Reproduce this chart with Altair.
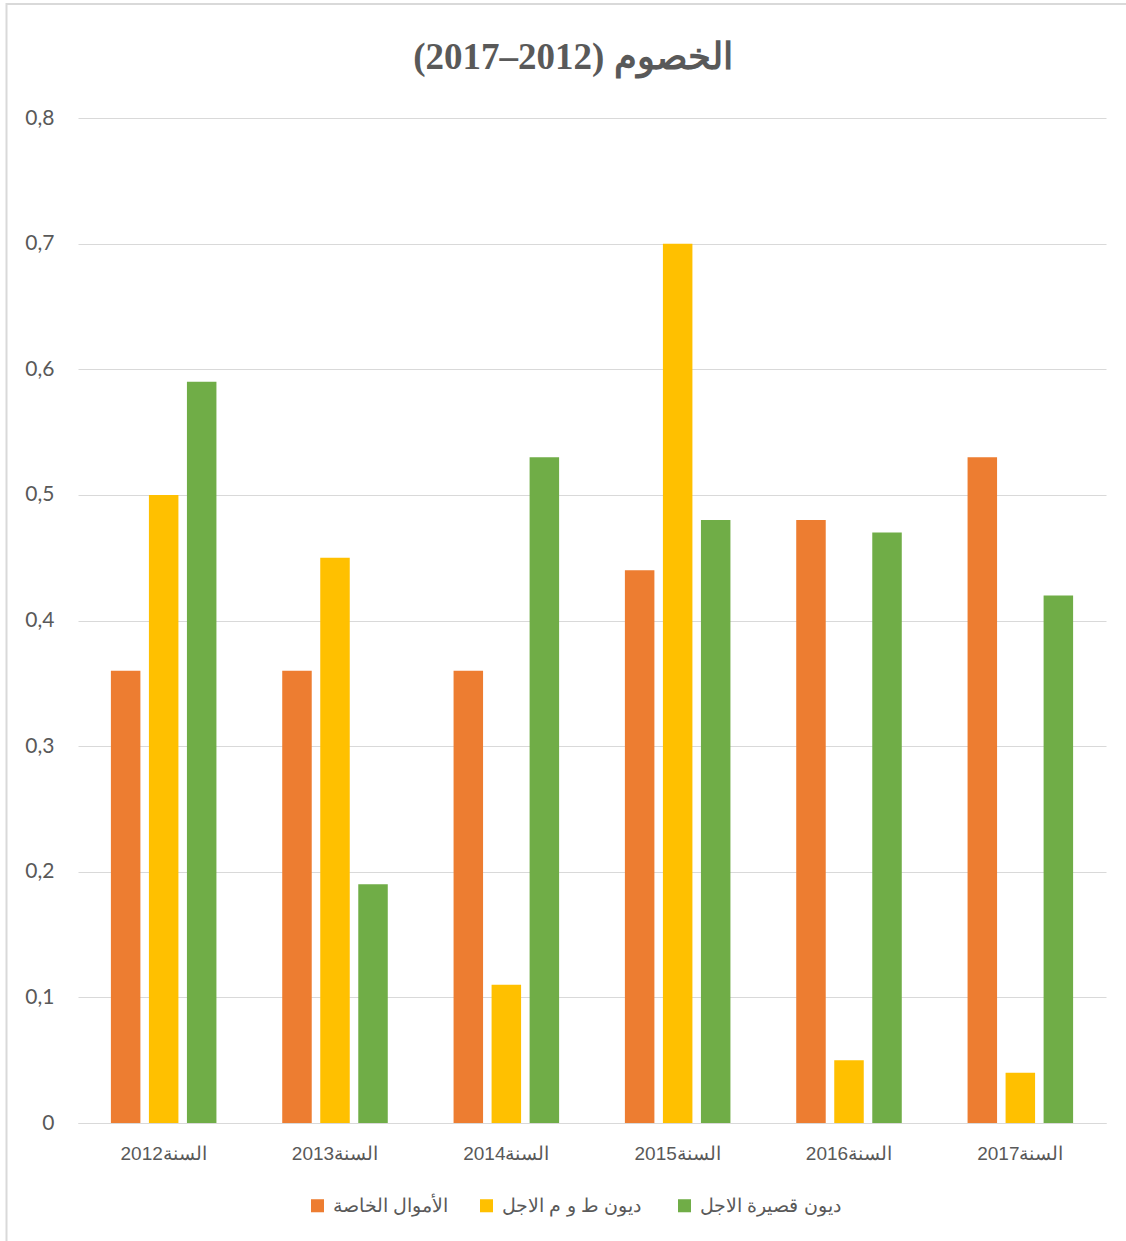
import altair as alt
import pandas as pd

years = ["السنة2012", "السنة2013", "السنة2014", "السنة2015", "السنة2016", "السنة2017"]
series = ["الأموال الخاصة", "ديون ط و م  الاجل", "ديون قصيرة الاجل"]
own_funds = [0.36, 0.36, 0.36, 0.44, 0.48, 0.53]
long_debt = [0.50, 0.45, 0.11, 0.70, 0.05, 0.04]
short_debt = [0.59, 0.19, 0.53, 0.48, 0.47, 0.42]
colors = ["#ED7D31", "#FFC000", "#70AD47"]
title_text = "(2017–2012) الخصوم"

rows = []
for s, vals in zip(series, [own_funds, long_debt, short_debt]):
    for y, v in zip(years, vals):
        rows.append({"year": y, "series": s, "value": v})
df = pd.DataFrame(rows)

bars = alt.Chart(df).mark_bar().encode(
    x=alt.X("year:N", sort=years, title=None,
            scale=alt.Scale(paddingInner=0.384, paddingOuter=0.192),
            axis=alt.Axis(labelAngle=0, labelFont="Liberation Sans", labelFontSize=19,
                          labelColor="#595959", ticks=False, domainColor="#d9d9d9",
                          domainWidth=1, labelPadding=21, grid=False)),
    xOffset=alt.XOffset("series:N", sort=series,
                        scale=alt.Scale(paddingInner=0.224, paddingOuter=0)),
    y=alt.Y("value:Q", title=None,
            scale=alt.Scale(domain=[0, 0.8], nice=False),
            axis=alt.Axis(values=[0, 0.1, 0.2, 0.3, 0.4, 0.5, 0.6, 0.7, 0.8],
                          labelExpr="datum.value == 0 ? '0' : replace(format(datum.value, '.1f'), '.', ',')",
                          labelFont="Lato", labelFontSize=21, labelColor="#595959",
                          ticks=False, domain=False, gridColor="#d9d9d9", gridWidth=1,
                          labelPadding=24)),
    color=alt.Color("series:N", sort=series,
                    scale=alt.Scale(domain=series, range=colors),
                    legend=alt.Legend(title=None, orient="none", direction="horizontal",
                                      legendX=230, legendY=1078,
                                      symbolType="square", symbolSize=170, symbolStrokeWidth=0,
                                      labelFont="Liberation Sans", labelFontSize=19,
                                      labelColor="#595959", columnPadding=28,
                                      labelOffset=6)),
)

border = alt.Chart(pd.DataFrame({"a": [0]})).mark_rect(
    fill=None, stroke="#d9d9d9", strokeWidth=2
).encode(
    x=alt.value(-71.5), x2=alt.value(1055),
    y=alt.value(-114), y2=alt.value(1130),
)

title = alt.Chart(pd.DataFrame({"t": [title_text]})).mark_text(
    font="Liberation Serif", fontSize=37, fontWeight="bold", color="#595959",
    align="center", baseline="alphabetic"
).encode(
    text="t:N", x=alt.value(495), y=alt.value(-49),
)

chart = alt.layer(border, title, bars).properties(
    width=1028, height=1005,
    autosize=alt.AutoSizeParams(type="none"),
    padding={"left": 78, "top": 118, "right": 20, "bottom": 118},
    background="white",
).configure_view(strokeWidth=0, stroke="transparent")

chart.save("out.html", embed_options={"renderer": "svg", "actions": False})
